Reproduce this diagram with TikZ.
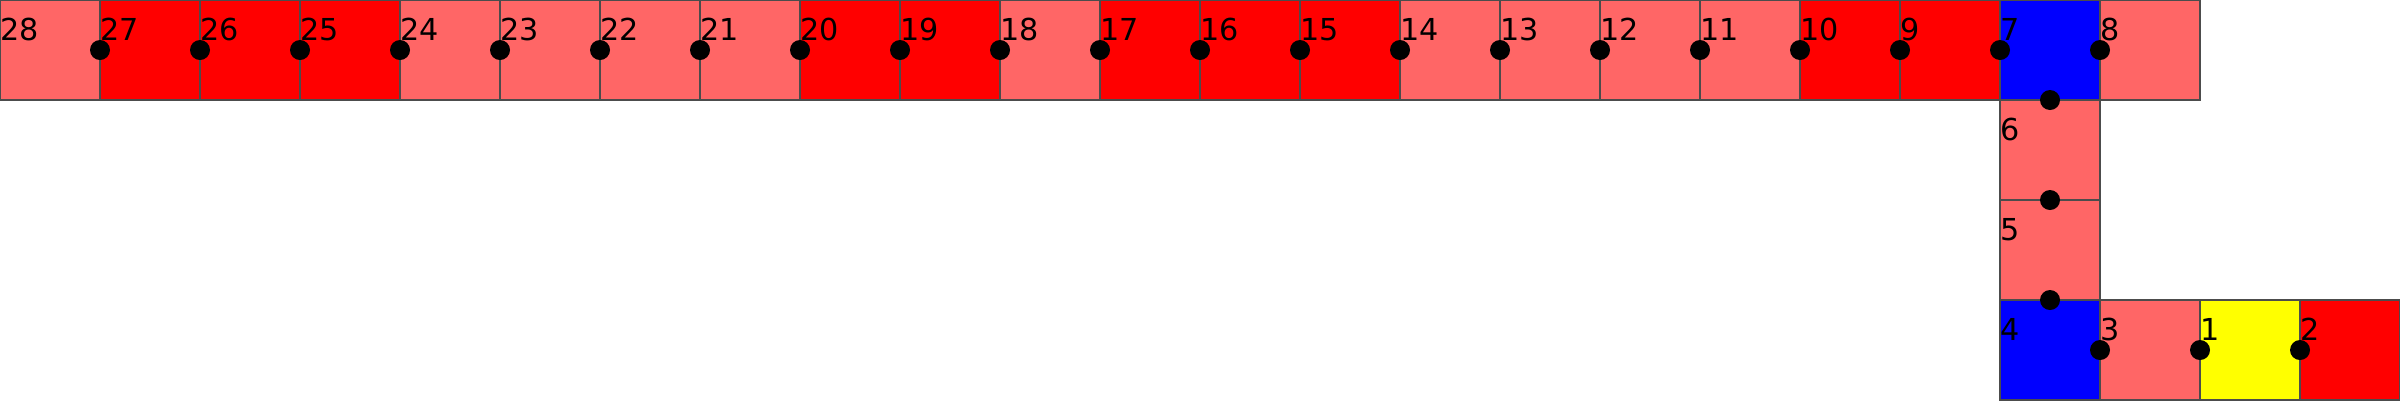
\documentclass[tikz,border=0pt]{standalone}
\usepackage{fontspec}
\setmainfont{DejaVu Sans}
\usetikzlibrary{positioning}
\definecolor{Pale}{HTML}{FF6666}
\definecolor{Hot}{HTML}{FF0000}
\definecolor{Mark}{HTML}{0000FF}
\definecolor{Start}{HTML}{FFFF00}
\tikzset{
    cell/.style={rectangle, draw=black!70, minimum size=1cm, inner sep=0pt, outer sep=0pt},
    num/.style={anchor=base west, inner sep=0pt, text=black, font=\fontsize{8.6}{10}\selectfont},
    joint/.style={fill=black},
}

\begin{document}
\begin{tikzpicture}
        \useasboundingbox (0,0) rectangle (24,4);
        % Top row
        \foreach \n/\c in {28/Pale,27/Hot,26/Hot,25/Hot,24/Pale,23/Pale,22/Pale,21/Pale,20/Hot,19/Hot,18/Pale,17/Hot,16/Hot,15/Hot,14/Pale,13/Pale,12/Pale,11/Pale,10/Hot,9/Hot}
            \node[cell, fill=\c] (c\n) at ({28.5-\n},3.5) {};
        \node[cell, fill=Mark, right=0pt of c9] (c7) {};
        \node[cell, fill=Pale, right=0pt of c7] (c8) {};

        % Down and along the bottom
        \node[cell, fill=Pale, below=0pt of c7] (c6) {};
        \node[cell, fill=Pale, below=0pt of c6] (c5) {};
        \node[cell, fill=Mark, below=0pt of c5] (c4) {};
        \node[cell, fill=Pale, right=0pt of c4] (c3) {};
        \node[cell, fill=Start, right=0pt of c3] (c1) {};
        \node[cell, fill=Hot, right=0pt of c1] (c2) {};

        % Joints
        \foreach \n in {27,...,9,7,8,3,1,2}
            \fill[joint] (c\n.west) circle (1mm);
        \foreach \n in {7,6,5}
            \fill[joint] (c\n.south) circle (1mm);

        % Numbers
        \foreach \n in {1,...,28}
            \node[num] (l\n) at ([yshift=-4mm]c\n.north west) {\n};
    \end{tikzpicture}
\end{document}
